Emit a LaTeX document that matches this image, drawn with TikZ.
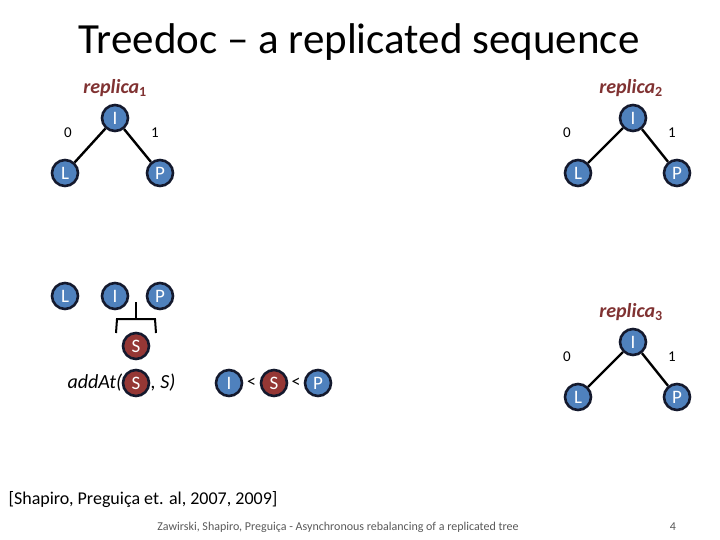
\documentclass[tikz,border=0pt]{standalone}
\usepackage{fontspec}
\setmainfont{Carlito}
\begin{document}
\begin{tikzpicture}[x=1pt,y=-1pt,
  bn/.style={circle,draw={rgb,255:red,20;green,25;blue,45},line width=2.6pt,fill={rgb,255:red,79;green,129;blue,189},minimum size=26pt,inner sep=0pt,text=white,font=\fontsize{19}{19}\selectfont},
  rn/.style={bn,fill={rgb,255:red,149;green,55;blue,53}},
  edge/.style={line width=2.4pt},
  rep/.style={text={rgb,255:red,128;green,50;blue,50},font=\fontsize{20}{20}\selectfont\bfseries\itshape},
  lab/.style={font=\fontsize{15}{15}\selectfont}]
\useasboundingbox (0,0) rectangle (720,540);
\node (title) at (359,42) {\fontsize{43}{43}\selectfont Treedoc – a replicated sequence};
% replica 1
\node[rep] (r1) at (115,88) {replica$_{\mathbf 1}$};
\node[bn] (a1) at (115,118) {I};
\node[bn] (b1) at (65,173) {L};
\node[bn] (c1) at (160,173) {P};
\draw[edge] (a1) -- (b1);
\draw[edge] (a1) -- (c1);
\node[lab] (z1) at (68,133) {0};
\node[lab] (o1) at (155,133) {1};
% replica 2
\node[rep] (r2) at (631,88) {replica$_{\mathbf 2}$};
\node[bn] (a2) at (633,118) {I};
\node[bn] (b2) at (578,173) {L};
\node[bn] (c2) at (677,173) {P};
\draw[edge] (a2) -- (b2);
\draw[edge] (a2) -- (c2);
\node[lab] (z2) at (567,133) {0};
\node[lab] (o2) at (672,133) {1};
% replica 3
\node[rep] (r3) at (631,312) {replica$_{\mathbf 3}$};
\node[bn] (a3) at (633,342) {I};
\node[bn] (b3) at (578,397) {L};
\node[bn] (c3) at (677,397) {P};
\draw[edge] (a3) -- (b3);
\draw[edge] (a3) -- (c3);
\node[lab] (z3) at (567,357) {0};
\node[lab] (o3) at (672,357) {1};
% row
\node[bn] (l4) at (65,296) {L};
\node[bn] (i4) at (115,296) {I};
\node[bn] (p4) at (160,296) {P};
\coordinate (st) at (136,302);
\coordinate (sb) at (136,318);
\draw[line width=2pt] (st) -- (sb);
\draw[line width=2pt] (116,333) -- (117,319) -- (155,319) -- (156,333);
\node[rn] (s4) at (136,346) {S};
\node[rn] (s5) at (136,383) {S};
\node[anchor=east,font=\fontsize{20}{20}\selectfont\itshape] (add) at ([xshift=4pt]s5.west) {addAt(};
\node[anchor=west,font=\fontsize{20}{20}\selectfont\itshape] (add2) at ([xshift=-3pt]s5.east) {, S)};
\node[bn] (i6) at (229,383) {I};
\node[rn] (s6) at (274,383) {S};
\node[bn] (p6) at (318,383) {P};
\node[font=\fontsize{18}{18}\selectfont] at (251.5,383) {<};
\node[font=\fontsize{18}{18}\selectfont] at (296,383) {<};
\node[anchor=west,font=\fontsize{18}{18}\selectfont] (ref) at (5,500) {[Shapiro, Preguiça et. al, 2007, 2009]};
\node[font=\fontsize{12}{12}\selectfont,text=black!65] (foot) at (338,527) {Zawirski, Shapiro, Preguiça - Asynchronous rebalancing of a replicated tree};
\node[font=\fontsize{12}{12}\selectfont,text=black!65] (num) at (673,527) {4};
\end{tikzpicture}
\end{document}
